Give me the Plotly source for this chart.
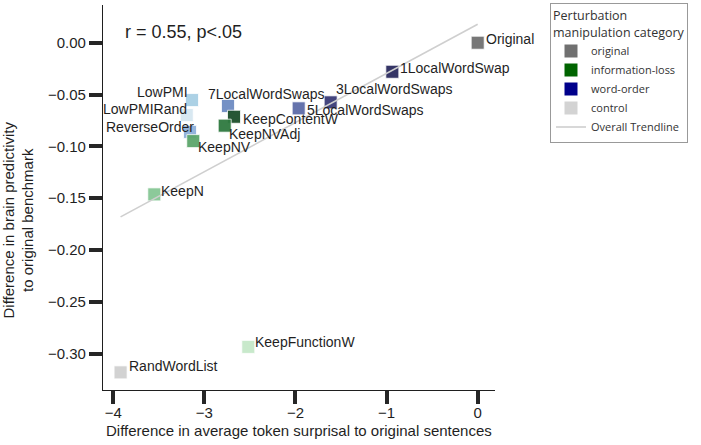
import plotly.graph_objects as go

# ---------------- data ----------------
names = ["Original", "1LocalWordSwap", "3LocalWordSwaps", "5LocalWordSwaps",
         "7LocalWordSwaps", "LowPMI", "LowPMIRand", "ReverseOrder", "KeepNV",
         "KeepContentW", "KeepNVAdj", "KeepN", "KeepFunctionW", "RandWordList"]
surprisal_diff = [0.0, -0.937, -1.614, -1.965, -2.741, -3.136, -3.194, -3.158,
                  -3.122, -2.675, -2.777, -3.55, -2.518, -3.92]
brain_diff = [0.0, -0.028, -0.0575, -0.0633, -0.061, -0.0553, -0.0698, -0.086,
              -0.0949, -0.0714, -0.080, -0.1463, -0.2934, -0.318]
point_colors = ["#707070", "#2b2b5e", "#3b3c78", "#5d6ca8", "#6e8cc2", "#a8cfe4",
                "#d6e7f1", "#8fb0da", "#5ca66b", "#1c4f2b", "#2f7a40", "#86c795",
                "#c6e8c9", "#d0d0d0"]
legend_names = ["original", "information-loss", "word-order", "control"]
legend_colors = ["#707070", "#006400", "#00008b", "#d3d3d3"]
trend_x = [-3.92, 0.0]
trend_y = [-0.168, 0.0178]
stat_text = "r = 0.55, p<.05"
x_ticks = [-4, -3, -2, -1, 0]
y_ticks = [0.0, -0.05, -0.10, -0.15, -0.20, -0.25, -0.30]

# label placement (style): xanchor, xshift, yshift
label_style = [("left", 6, 4), ("left", 6, 4), ("left", 3, 13), ("left", 6, -2),
               ("left", -22, 12), ("right", -2, 8), ("right", 2, 6), ("right", 6, 5),
               ("left", 3, -6), ("left", 7, -2), ("left", 2, -8), ("left", 5, 3),
               ("left", 5, 5), ("left", 6, 6)]

FONT = "Liberation Sans, Arial, Helvetica, sans-serif"
INK = "#1f1f1f"

fig = go.Figure()

fig.add_trace(go.Scatter(
    x=surprisal_diff, y=brain_diff, mode="markers", showlegend=False,
    marker=dict(symbol="square", size=13, color=point_colors, opacity=0.95,
                line=dict(color="white", width=0.8)),
    hovertext=names,
))

for nm, col in zip(legend_names, legend_colors):
    fig.add_trace(go.Scatter(
        x=[None], y=[None], mode="markers", name=nm,
        marker=dict(symbol="square", size=13, color=col),
    ))

fig.add_trace(go.Scatter(
    x=trend_x, y=trend_y, mode="lines", name="Overall Trendline",
    line=dict(color="#cfcfcf", width=1.6),
))

annotations = []
for nm, xv, yv, (anc, xs, ys) in zip(names, surprisal_diff, brain_diff, label_style):
    annotations.append(dict(
        x=xv, y=yv, xref="x", yref="y", text=nm, showarrow=False,
        xanchor=anc, yanchor="middle", xshift=xs, yshift=ys,
        font=dict(family=FONT, size=14, color=INK),
    ))

annotations.append(dict(
    x=0.052, y=0.929, xref="paper", yref="paper", text=stat_text, showarrow=False,
    xanchor="left", yanchor="middle", font=dict(family=FONT, size=18, color=INK),
))
# axis titles
annotations.append(dict(
    x=0, y=0.4416, xref="paper", yref="paper", xshift=-84.5,
    text="Difference in brain predictivity<br>to original benchmark",
    textangle=-90, showarrow=False, xanchor="center", yanchor="middle",
    font=dict(family=FONT, size=15, color=INK),
))
annotations.append(dict(
    x=0.5, y=-0.104, xref="paper", yref="paper",
    text="Difference in average token surprisal to original sentences",
    showarrow=False, xanchor="center", yanchor="middle",
    font=dict(family=FONT, size=15, color=INK),
))

axis_common = dict(
    showline=True, linecolor=INK, linewidth=1.3, ticks="outside", ticklen=13,
    tickwidth=4, tickcolor="#262626", showgrid=False, zeroline=False,
    tickfont=dict(family=FONT, size=15, color=INK), automargin=False,
)

fig.update_layout(
    width=701, height=445,
    margin=dict(l=103, r=206, t=5, b=55, autoexpand=False),
    plot_bgcolor="white", paper_bgcolor="white",
    xaxis=dict(range=[-4.113, 0.19], tickvals=x_ticks, ticklabelstandoff=-4, **axis_common),
    yaxis=dict(range=[-0.335, 0.0364], tickvals=y_ticks, tickformat=".2f", **axis_common),
    legend=dict(
        xref="container", yref="container",
        x=550 / 701, y=1 - 3 / 445, xanchor="left", yanchor="top",
        title=dict(text="Perturbation<br>manipulation category",
                   font=dict(family="Open Sans", size=12.5, color="#333")),
        font=dict(family="Open Sans", size=11, color="#333"),
        bordercolor="#999", borderwidth=1, bgcolor="white",
        tracegroupgap=0, itemwidth=30, entrywidth=108, entrywidthmode="pixels",
    ),
    annotations=annotations,
    showlegend=True,
)

fig.write_html("out.html", config={"displayModeBar": False},
               post_script="document.body.style.margin='0';document.body.style.padding='0';")
